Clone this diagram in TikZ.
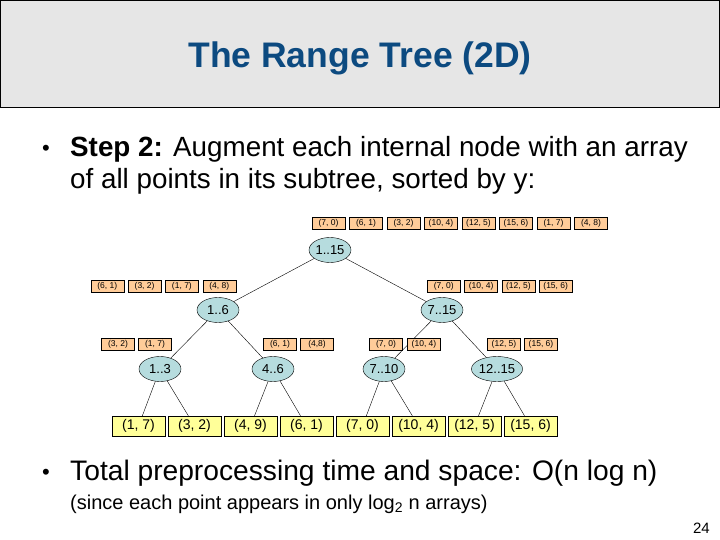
\documentclass[tikz,border=0pt]{standalone}
\usepackage{fontspec}
\setmainfont{Liberation Sans}
\usetikzlibrary{shapes.geometric}

\definecolor{headgrey}{RGB}{230,230,230}
\definecolor{titleblue}{RGB}{12,74,128}
\definecolor{arrorange}{RGB}{255,204,153}
\definecolor{treeblue}{RGB}{182,220,222}
\definecolor{leafyellow}{RGB}{255,255,153}

\tikzset{
  arrbox/.style={draw, fill=arrorange, minimum width=33pt, minimum height=12pt,
    inner sep=0pt, font=\fontsize{8.5}{10}\selectfont},
  treenode/.style={ellipse, draw, fill=treeblue, minimum width=42pt, minimum height=25pt,
    inner sep=0pt, font=\fontsize{13}{15}\selectfont},
  leafbox/.style={draw, fill=leafyellow, minimum width=53pt, minimum height=20pt,
    inner sep=0pt, font=\fontsize{14}{16}\selectfont},
  edge/.style={draw, thin},
  bodytext/.style={anchor=base west, inner sep=0pt}
}

\begin{document}
\begin{tikzpicture}[x=1pt, y=-1pt]
  \useasboundingbox (0,0) rectangle (720,540);
  \fill[white] (0,0) rectangle (720,540);
  % header
  \draw[fill=headgrey, line width=1pt] (0.5,0.5) rectangle (719.5,107.5);
  \node[text=titleblue, font=\fontsize{35.5}{40}\bfseries\selectfont] (title) at (360,58) {The Range Tree (2D)};

  % first bullet
  \node[bodytext, font=\fontsize{22}{26}\selectfont] (b1) at (42,156) {\textbullet};
  \node[bodytext, font=\fontsize{27.8}{32}\selectfont] (s1) at (70,157) {\textbf{Step 2:} Augment each internal node with an array};
  \node[bodytext, font=\fontsize{27.8}{32}\selectfont] (s2) at (70,189) {of all points in its subtree, sorted by y:};

  % tree nodes
  \node[treenode] (root) at (330,250) {1..15};
  \node[treenode] (n16) at (218,310) {1..6};
  \node[treenode] (n715) at (442,310) {7..15};
  \node[treenode] (n13) at (160,369) {1..3};
  \node[treenode] (n46) at (273,369) {4..6};
  \node[treenode] (n710) at (384,369) {7..10};
  \node[treenode] (n1215) at (497,369) {12..15};

  % leaves
  \foreach \p [count=\i] in {{(1, 7)},{(3, 2)},{(4, 9)},{(6, 1)},{(7, 0)},{(10, 4)},{(12, 5)},{(15, 6)}}
    \node[leafbox] (l\i) at ({82.5+56*\i},426) {\p};

  % edges
  \draw[edge] (root) -- (n16);
  \draw[edge] (root) -- (n715);
  \draw[edge] (n16) -- (n13);
  \draw[edge] (n16) -- (n46);
  \draw[edge] (n715) -- (n710);
  \draw[edge] (n715) -- (n1215);
  \draw[edge] (n13) -- (l1);
  \draw[edge] (n13) -- (l2);
  \draw[edge] (n46) -- (l3);
  \draw[edge] (n46) -- (l4);
  \draw[edge] (n710) -- (l5);
  \draw[edge] (n710) -- (l6);
  \draw[edge] (n1215) -- (l7);
  \draw[edge] (n1215) -- (l8);

  % arrays sorted by y
  \foreach \p [count=\i] in {{(7, 0)},{(6, 1)},{(3, 2)},{(10, 4)},{(12, 5)},{(15, 6)},{(1, 7)},{(4, 8)}}
    \node[arrbox] (ra\i) at ({291+37.5*\i},223) {\p};
  \foreach \p [count=\i] in {{(6, 1)},{(3, 2)},{(1, 7)},{(4, 8)}}
    \node[arrbox] (la\i) at ({70+37.3*\i},286) {\p};
  \foreach \p [count=\i] in {{(7, 0)},{(10, 4)},{(12, 5)},{(15, 6)}}
    \node[arrbox] (rb\i) at ({406.5+37.3*\i},286) {\p};
  \node[arrbox] (a13a) at (118,344) {(3, 2)};
  \node[arrbox] (a13b) at (155,344) {(1, 7)};
  \node[arrbox] (a46a) at (280,344) {(6, 1)};
  \node[arrbox] (a46b) at (317,344) {(4,8)};
  \node[arrbox] (a710a) at (386,344) {(7, 0)};
  \node[arrbox] (a710b) at (424,344) {(10, 4)};
  \node[arrbox] (a1215a) at (504,344) {(12, 5)};
  \node[arrbox] (a1215b) at (541,344) {(15, 6)};

  % second bullet
  \node[bodytext, font=\fontsize{22}{26}\selectfont] (b2) at (42,479) {\textbullet};
  \node[bodytext, font=\fontsize{28.2}{32}\selectfont] (t1) at (70,480) {Total preprocessing time and space: O(n log n)};
  \node[bodytext, font=\fontsize{20}{23}\selectfont] (t2) at (70,509) {(since each point appears in only log\textsubscript{2} n arrays)};
  \node[anchor=base east, inner sep=0pt, font=\fontsize{15}{18}\selectfont] (pg) at (710,533) {24};
\end{tikzpicture}
\end{document}
